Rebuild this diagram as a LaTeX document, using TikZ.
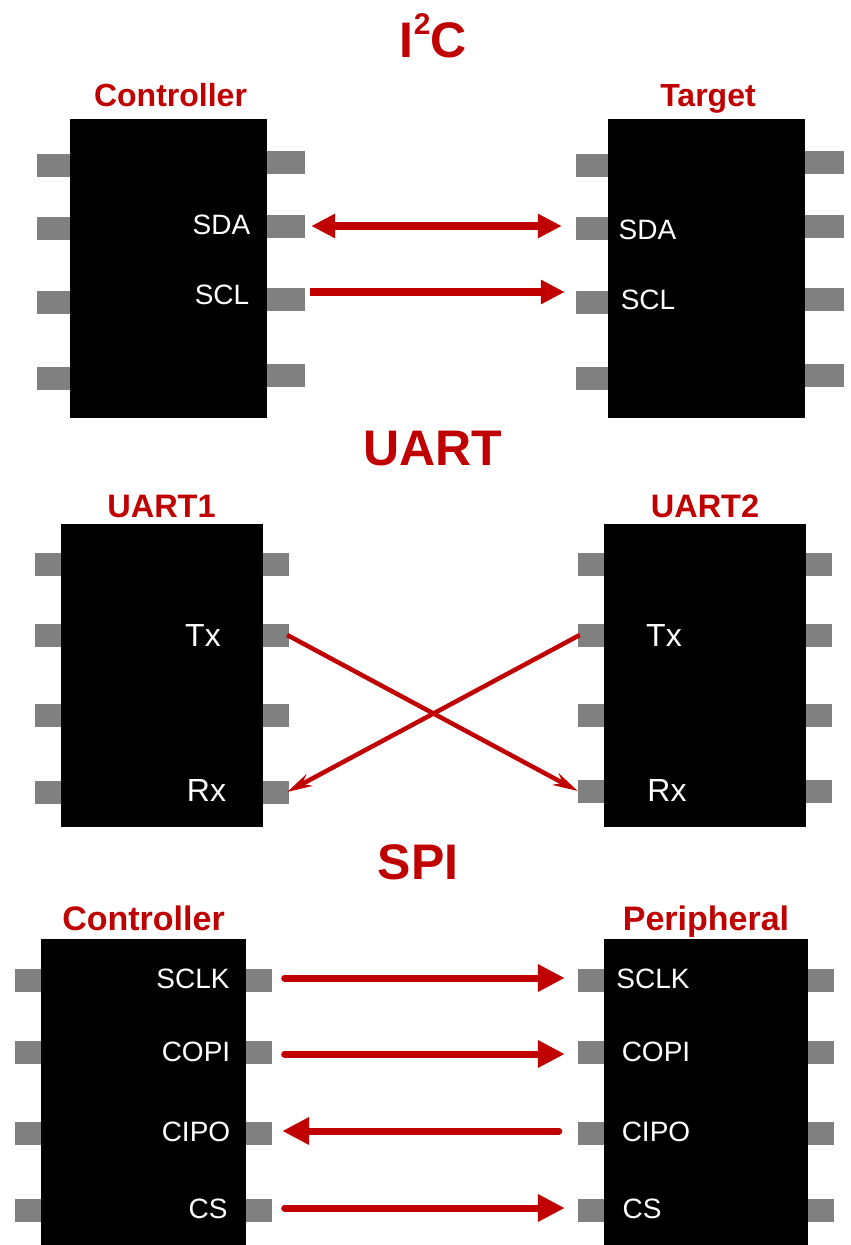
\documentclass[tikz,border=0pt]{standalone}
\usepackage{fontspec}
\setmainfont{Liberation Sans}
\usetikzlibrary{arrows.meta}
\definecolor{icred}{HTML}{C00000}
\definecolor{icgray}{HTML}{808080}

\begin{document}
\begin{tikzpicture}[x=1pt,y=-1pt,
                chip/.style = {fill=black, inner sep=0pt, minimum width=#1},
                lead/.style = {fill=icgray, inner sep=0pt, minimum width=#1, minimum height=23pt},
                tag/.style = {color=white, inner sep=0pt, font=\fontsize{28}{32}\selectfont},
                bigtag/.style = {color=white, inner sep=0pt, font=\fontsize{32}{36}\selectfont},
                head/.style = {color=icred, inner sep=0pt, anchor=base, font=\fontsize{#1}{36}\selectfont\bfseries},
                bigtitle/.style = {color=icred, inner sep=0pt, anchor=base, font=\fontsize{50}{60}\selectfont\bfseries},
                arrowa/.style = {draw=icred, line width=8pt, -{Triangle[length=24pt,width=23pt]}},
                arrowd/.style = {draw=icred, line width=8pt, {Triangle[length=24pt,width=23pt]}-{Triangle[length=24pt,width=23pt]}},
                arrowb/.style = {draw=icred, line width=4.5pt, -{Stealth[length=25pt,width=13pt]}},
                arrowc/.style = {draw=icred, line width=7pt, line cap=round, -{Triangle[length=27pt,width=26pt]}}]
                \useasboundingbox (0,0) rectangle (851,1245);
                % I2C
                \node[bigtitle] (t1) at (433.3,57) {I\raisebox{23pt}{\fontsize{30}{30}\selectfont 2}C};
                \node[chip=197pt, minimum height=299pt] (c1) at (168.5,268.5) {};
                \node[chip=197pt, minimum height=299pt] (c2) at (706.5,268.5) {};
                \node[head=32] (h1) at (170.5,106) {Controller};
                \node[head=32] (h2) at (708,106) {Target};
                \node[lead=33pt] (c1l1) at (53.5,165.5) {};
                \node[lead=33pt] (c1l2) at (53.5,228.5) {};
                \node[lead=33pt] (c1l3) at (53.5,302) {};
                \node[lead=33pt] (c1l4) at (53.5,378.5) {};
                \node[lead=38pt] (c1r1) at (286,162.5) {};
                \node[lead=38pt] (c1r2) at (286,226) {};
                \node[lead=38pt] (c1r3) at (286,299.5) {};
                \node[lead=38pt] (c1r4) at (286,375.5) {};
                \node[lead=32pt] (c2l1) at (592,165.5) {};
                \node[lead=32pt] (c2l2) at (592,228.5) {};
                \node[lead=32pt] (c2l3) at (592,302) {};
                \node[lead=32pt] (c2l4) at (592,378.5) {};
                \node[lead=39pt] (c2r1) at (824.5,162.5) {};
                \node[lead=39pt] (c2r2) at (824.5,226) {};
                \node[lead=39pt] (c2r3) at (824.5,299.5) {};
                \node[lead=39pt] (c2r4) at (824.5,375.5) {};
                \node[tag] (s1) at (221.5,225) {SDA};
                \node[tag] (s2) at (222,295) {SCL};
                \node[tag] (s3) at (647.5,230) {SDA};
                \node[tag] (s4) at (648,300) {SCL};
                \path
                    ([xshift=6pt]c1r2.east) edge[arrowd] ([xshift=-14pt,yshift=2.5pt]c2l2.west)
                    ([xshift=5pt,yshift=7.5pt]c1r3.east) edge[arrowa] ([xshift=-11pt,yshift=10pt]c2l3.west);
                % UART
                \node[bigtitle] (t2) at (433,465) {UART};
                \node[chip=202pt, minimum height=303pt] (c3) at (162,675.5) {};
                \node[chip=202pt, minimum height=303pt] (c4) at (705,675.5) {};
                \node[head=32.5] (h3) at (161.5,517) {UART1};
                \node[head=32.5] (h4) at (705,517) {UART2};
                \node[lead=26pt] (c3l1) at (48,564) {};
                \node[lead=26pt] (c3l2) at (48,635) {};
                \node[lead=26pt] (c3l3) at (48,715.5) {};
                \node[lead=26pt] (c3l4) at (48,792) {};
                \node[lead=26pt] (c3r1) at (276,564) {};
                \node[lead=26pt] (c3r2) at (276,635) {};
                \node[lead=26pt] (c3r3) at (276,715.5) {};
                \node[lead=26pt] (c3r4) at (276,792) {};
                \node[lead=26pt] (c4l1) at (591,564) {};
                \node[lead=26pt] (c4l2) at (591,635) {};
                \node[lead=26pt] (c4l3) at (591,715) {};
                \node[lead=26pt] (c4l4) at (591,791) {};
                \node[lead=26pt] (c4r1) at (819,564) {};
                \node[lead=26pt] (c4r2) at (819,635) {};
                \node[lead=26pt] (c4r3) at (819,715) {};
                \node[lead=26pt] (c4r4) at (819,791) {};
                \node[bigtag] (s5) at (203,635) {Tx};
                \node[bigtag] (s6) at (206.5,790) {Rx};
                \node[bigtag] (s7) at (664,635) {Tx};
                \node[bigtag] (s8) at (667,790) {Rx};
                \path
                    ([xshift=-2pt]c3r2.east) edge[arrowb] (c4l4.west)
                    ([xshift=2pt]c4l2.west) edge[arrowb] ([xshift=-2pt]c3r4.east);
                % SPI
                \node[bigtitle] (t3) at (418,879) {SPI};
                \node[chip=205pt, minimum height=306pt] (c5) at (143.5,1092) {};
                \node[chip=204.5pt, minimum height=306pt] (c6) at (705.75,1092) {};
                \node[head=34] (h5) at (143.5,930) {Controller};
                \node[head=34] (h6) at (706,930) {Peripheral};
                \node[lead=26pt] (c5l1) at (28,980) {};
                \node[lead=26pt] (c5l2) at (28,1052.5) {};
                \node[lead=26pt] (c5l3) at (28,1133.5) {};
                \node[lead=26pt] (c5l4) at (28,1210) {};
                \node[lead=26pt] (c5r1) at (259,980) {};
                \node[lead=26pt] (c5r2) at (259,1052.5) {};
                \node[lead=26pt] (c5r3) at (259,1133.5) {};
                \node[lead=26pt] (c5r4) at (259,1210) {};
                \node[lead=26pt] (c6l1) at (590.5,980) {};
                \node[lead=26pt] (c6l2) at (590.5,1052.5) {};
                \node[lead=26pt] (c6l3) at (590.5,1133.5) {};
                \node[lead=26pt] (c6l4) at (590.5,1210) {};
                \node[lead=26pt] (c6r1) at (821,980) {};
                \node[lead=26pt] (c6r2) at (821,1052.5) {};
                \node[lead=26pt] (c6r3) at (821,1133.5) {};
                \node[lead=26pt] (c6r4) at (821,1210) {};
                \node[tag] (s9) at (193,979) {SCLK};
                \node[tag] (s10) at (196,1052) {COPI};
                \node[tag] (s11) at (196,1132) {CIPO};
                \node[tag] (s12) at (208,1209) {CS};
                \node[tag] (s13) at (653,979) {SCLK};
                \node[tag] (s14) at (656,1052) {COPI};
                \node[tag] (s15) at (656,1132) {CIPO};
                \node[tag] (s16) at (642,1209) {CS};
                \path
                    ([xshift=12.5pt,yshift=2pt]c5r1.east) edge[arrowc] ([xshift=-12.5pt,yshift=2pt]c6l1.west)
                    ([xshift=12.5pt,yshift=-1.5pt]c5r2.east) edge[arrowc] ([xshift=-12.5pt,yshift=-1.5pt]c6l2.west)
                    ([xshift=-18.5pt,yshift=2.5pt]c6l3.west) edge[arrowc] ([xshift=10pt,yshift=2.5pt]c5r3.east)
                    ([xshift=12.5pt,yshift=2pt]c5r4.east) edge[arrowc] ([xshift=-12.5pt,yshift=2pt]c6l4.west);
            \end{tikzpicture}
\end{document}
